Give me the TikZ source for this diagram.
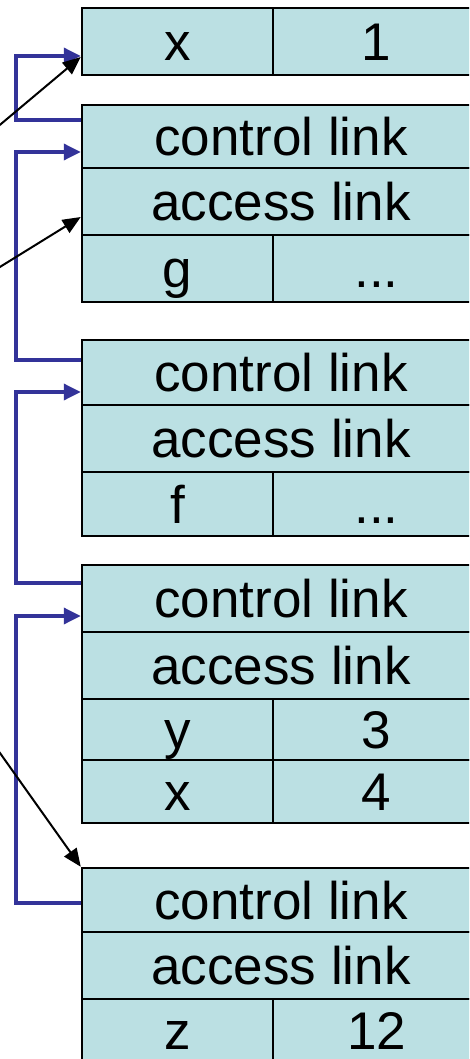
\documentclass[tikz,border=0pt]{standalone}
\usepackage{fontspec}
\setmainfont{Liberation Sans}
\usetikzlibrary{arrows.meta}
\definecolor{cellfill}{HTML}{BBE0E3}
\definecolor{ctlblue}{HTML}{333399}
\tikzset{
  cell/.style={draw=black, fill=cellfill, line width=2.5pt, inner sep=0pt,
    text height=38pt, text depth=0pt, font=\fontsize{53}{60}\selectfont},
  full/.style={cell, minimum width=398pt},
  lhalf/.style={cell, minimum width=191pt},
  rhalf/.style={cell, minimum width=207pt},
  ctl/.style={draw=ctlblue, line width=3.5pt, -{Triangle[length=17pt,width=16pt]}},
  acc/.style={draw=black, line width=2pt, -{Triangle[length=18pt,width=15pt]}}
}
\begin{document}
\begin{tikzpicture}[x=1pt,y=-1pt]
\useasboundingbox (0,0) rectangle (469,1059);
\clip (0,0) rectangle (469,1059);
% box 1
\node[lhalf, minimum height=67pt] (b1l) at (177.5,41.5) {x};
\node[rhalf, minimum height=67pt] (b1r) at (376.5,41.5) {1};
% box 2
\node[full, minimum height=63pt] (b2c) at (281,136.5) {control link};
\node[full, minimum height=67pt] (b2a) at (281,201.5) {access link};
\node[lhalf, minimum height=67pt] (b2l) at (177.5,268.5) {g};
\node[rhalf, minimum height=67pt] (b2r) at (376.5,268.5) {...};
% box 3
\node[full, minimum height=65pt] (b3c) at (281,372.5) {control link};
\node[full, minimum height=67pt] (b3a) at (281,438.5) {access link};
\node[lhalf, minimum height=64pt] (b3l) at (177.5,504) {f};
\node[rhalf, minimum height=64pt] (b3r) at (376.5,504) {...};
% box 4
\node[full, minimum height=67pt] (b4c) at (281,598.5) {control link};
\node[full, minimum height=67pt] (b4a) at (281,665.5) {access link};
\node[lhalf, minimum height=61pt] (b4l) at (177.5,729.5) {y};
\node[rhalf, minimum height=61pt] (b4r) at (376.5,729.5) {3};
\node[lhalf, minimum height=63pt] (b4l2) at (177.5,791.5) {x};
\node[rhalf, minimum height=63pt] (b4r2) at (376.5,791.5) {4};
% box 5
\node[full, minimum height=64pt] (b5c) at (281,900) {control link};
\node[full, minimum height=67pt] (b5a) at (281,965.5) {access link};
\node[lhalf, minimum height=63pt] (b5l) at (177.5,1030.5) {z};
\node[rhalf, minimum height=63pt] (b5r) at (376.5,1030.5) {12};
% control links
\draw[ctl] ([yshift=16.5pt]b2c.west) -- ++(-65,0) |- ([yshift=-14.5pt]b1l.west);
\draw[ctl] ([yshift=12.5pt]b3c.west) -- ++(-65,0) |- ([yshift=-15.5pt]b2c.west);
\draw[ctl] ([yshift=15.5pt]b4c.west) -- ++(-65,0) |- ([yshift=-19.5pt]b3c.west);
\draw[ctl] ([yshift=-3pt]b5c.west) -- ++(-65,0) |- ([yshift=-17.5pt]b4c.west);
% access links from outside
\coordinate (s1) at (-5,129);
\coordinate (s2) at (-5,270);
\coordinate (s3) at (-5,746);
\draw[acc] (s1) -- ([yshift=-15.5pt]b1l.west);
\draw[acc] (s2) -- ([yshift=-15.5pt]b2a.west);
\draw[acc] (s3) -- (b5c.north west);
\end{tikzpicture}
\end{document}
